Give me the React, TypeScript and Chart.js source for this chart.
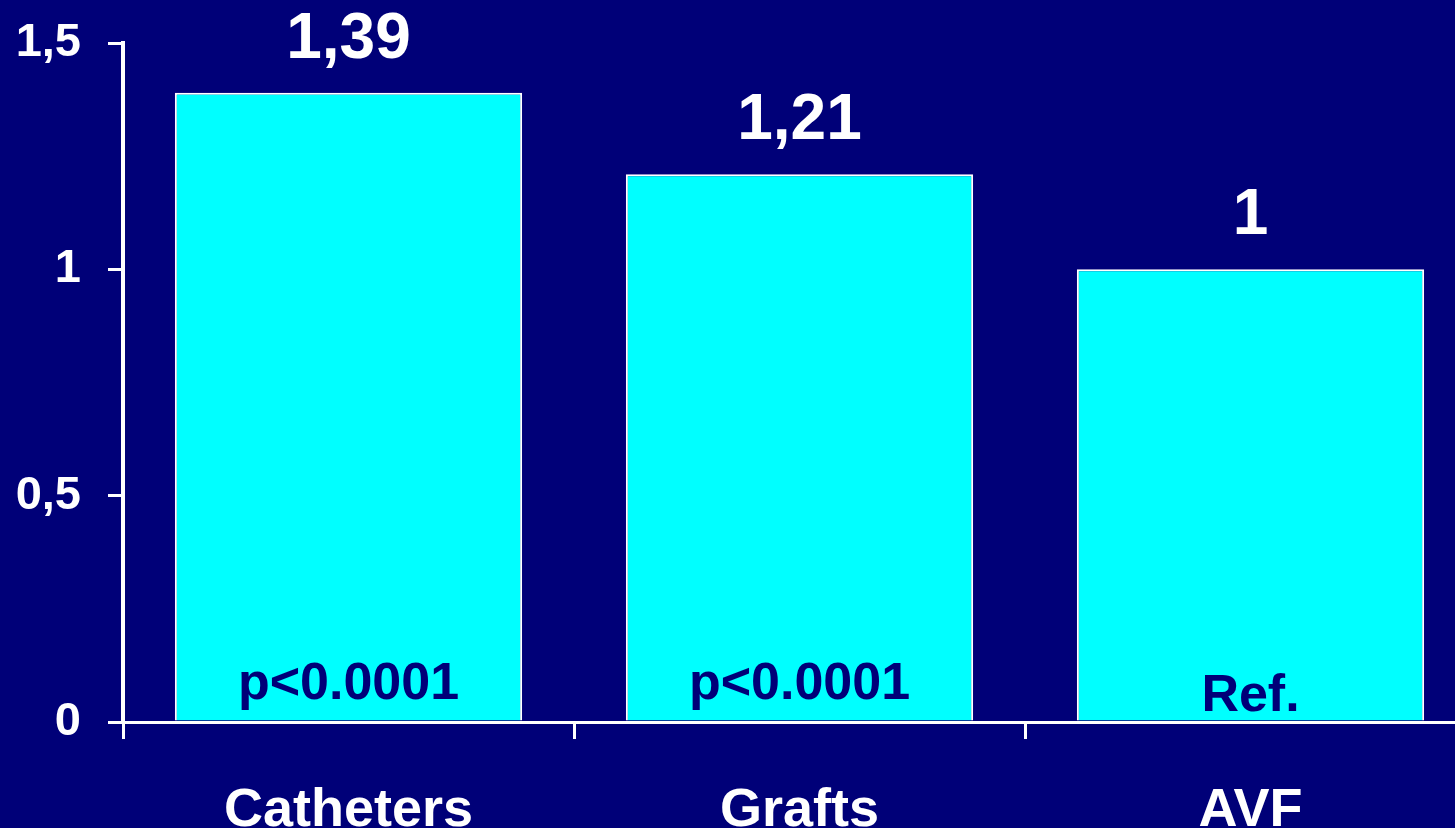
import React, { useEffect, useRef } from "react";
import { Chart, registerables } from "chart.js";

Chart.register(...registerables);

const categories = ["Catheters", "Grafts", "AVF"];
const values = [1.39, 1.21, 1];
const valueLabels = ["1,39", "1,21", "1"];
const pLabels = ["p<0.0001", "p<0.0001", "Ref."];
const yTicks = [0, 0.5, 1, 1.5];

const BG = "#000078";
const FONT = "'Liberation Sans', Arial, sans-serif";

const bgPlugin = {
  id: "bgFill",
  beforeDraw(chart: any) {
    const { ctx, width, height } = chart;
    ctx.save();
    ctx.fillStyle = BG;
    ctx.fillRect(0, 0, width, height);
    ctx.restore();
  },
};

const labelPlugin = {
  id: "barLabels",
  afterDatasetsDraw(chart: any) {
    const { ctx } = chart;
    const meta = chart.getDatasetMeta(0);
    const lifts = [22, 22, 10];
    ctx.save();
    ctx.textAlign = "center";
    ctx.textBaseline = "alphabetic";
    meta.data.forEach((bar: any, i: number) => {
      ctx.fillStyle = "#ffffff";
      ctx.font = `bold 64px ${FONT}`;
      ctx.fillText(valueLabels[i], bar.x, bar.y - 35);
      ctx.fillStyle = BG;
      ctx.font = `bold 52px ${FONT}`;
      ctx.fillText(pLabels[i], bar.x, bar.base - lifts[i]);
    });
    ctx.restore();
  },
};

export default function App() {
  const ref = useRef<HTMLCanvasElement>(null);
  useEffect(() => {
    if (!ref.current) return;
    const chart = new Chart(ref.current, {
      type: "bar",
      data: {
        labels: categories,
        datasets: [
          {
            data: values,
            backgroundColor: "#00FFFF",
            borderColor: "#ffffff",
            borderWidth: 2,
            categoryPercentage: 1,
            barPercentage: 0.77,
          },
        ],
      },
      options: {
        animation: false,
        responsive: false,
        devicePixelRatio: 1,
        layout: { padding: { top: 43, right: 4, left: 0, bottom: 0 } },
        plugins: {
          legend: { display: false },
          tooltip: { enabled: false },
        },
        scales: {
          x: {
            grid: {
              offset: true,
              drawOnChartArea: false,
              drawTicks: true,
              tickLength: 17,
              color: "#ffffff",
              lineWidth: 3,
            },
            border: { display: true, color: "#ffffff", width: 3 },
            ticks: {
              color: "#ffffff",
              font: { family: FONT, size: 54, weight: "bold" },
              padding: 40,
            },
            afterFit: (scale: any) => {
              scale.height = 106;
              scale.paddingLeft = 0;
              scale.paddingRight = 0;
            },
          },
          y: {
            min: 0,
            max: 1.5,
            afterBuildTicks: (scale: any) => {
              scale.ticks = yTicks.map((v) => ({ value: v }));
            },
            grid: {
              drawOnChartArea: false,
              drawTicks: true,
              tickLength: 15,
              color: "#ffffff",
              lineWidth: 3,
            },
            border: { display: true, color: "#ffffff", width: 4 },
            ticks: {
              color: "#ffffff",
              font: { family: FONT, size: 47, weight: "bold" },
              padding: 27,
              callback: (v: any) => String(v).replace(".", ","),
            },
            afterFit: (scale: any) => {
              scale.width = 123;
              scale.paddingTop = 0;
              scale.paddingBottom = 0;
            },
          },
        },
      },
      plugins: [bgPlugin, labelPlugin],
    });
    return () => chart.destroy();
  }, []);

  return (
    <div
      style={{
        position: "fixed",
        left: 0,
        top: 0,
        width: 1455,
        height: 828,
        overflow: "hidden",
        background: BG,
      }}
    >
      <canvas ref={ref} width={1480} height={828} style={{ display: "block" }} />
    </div>
  );
}
